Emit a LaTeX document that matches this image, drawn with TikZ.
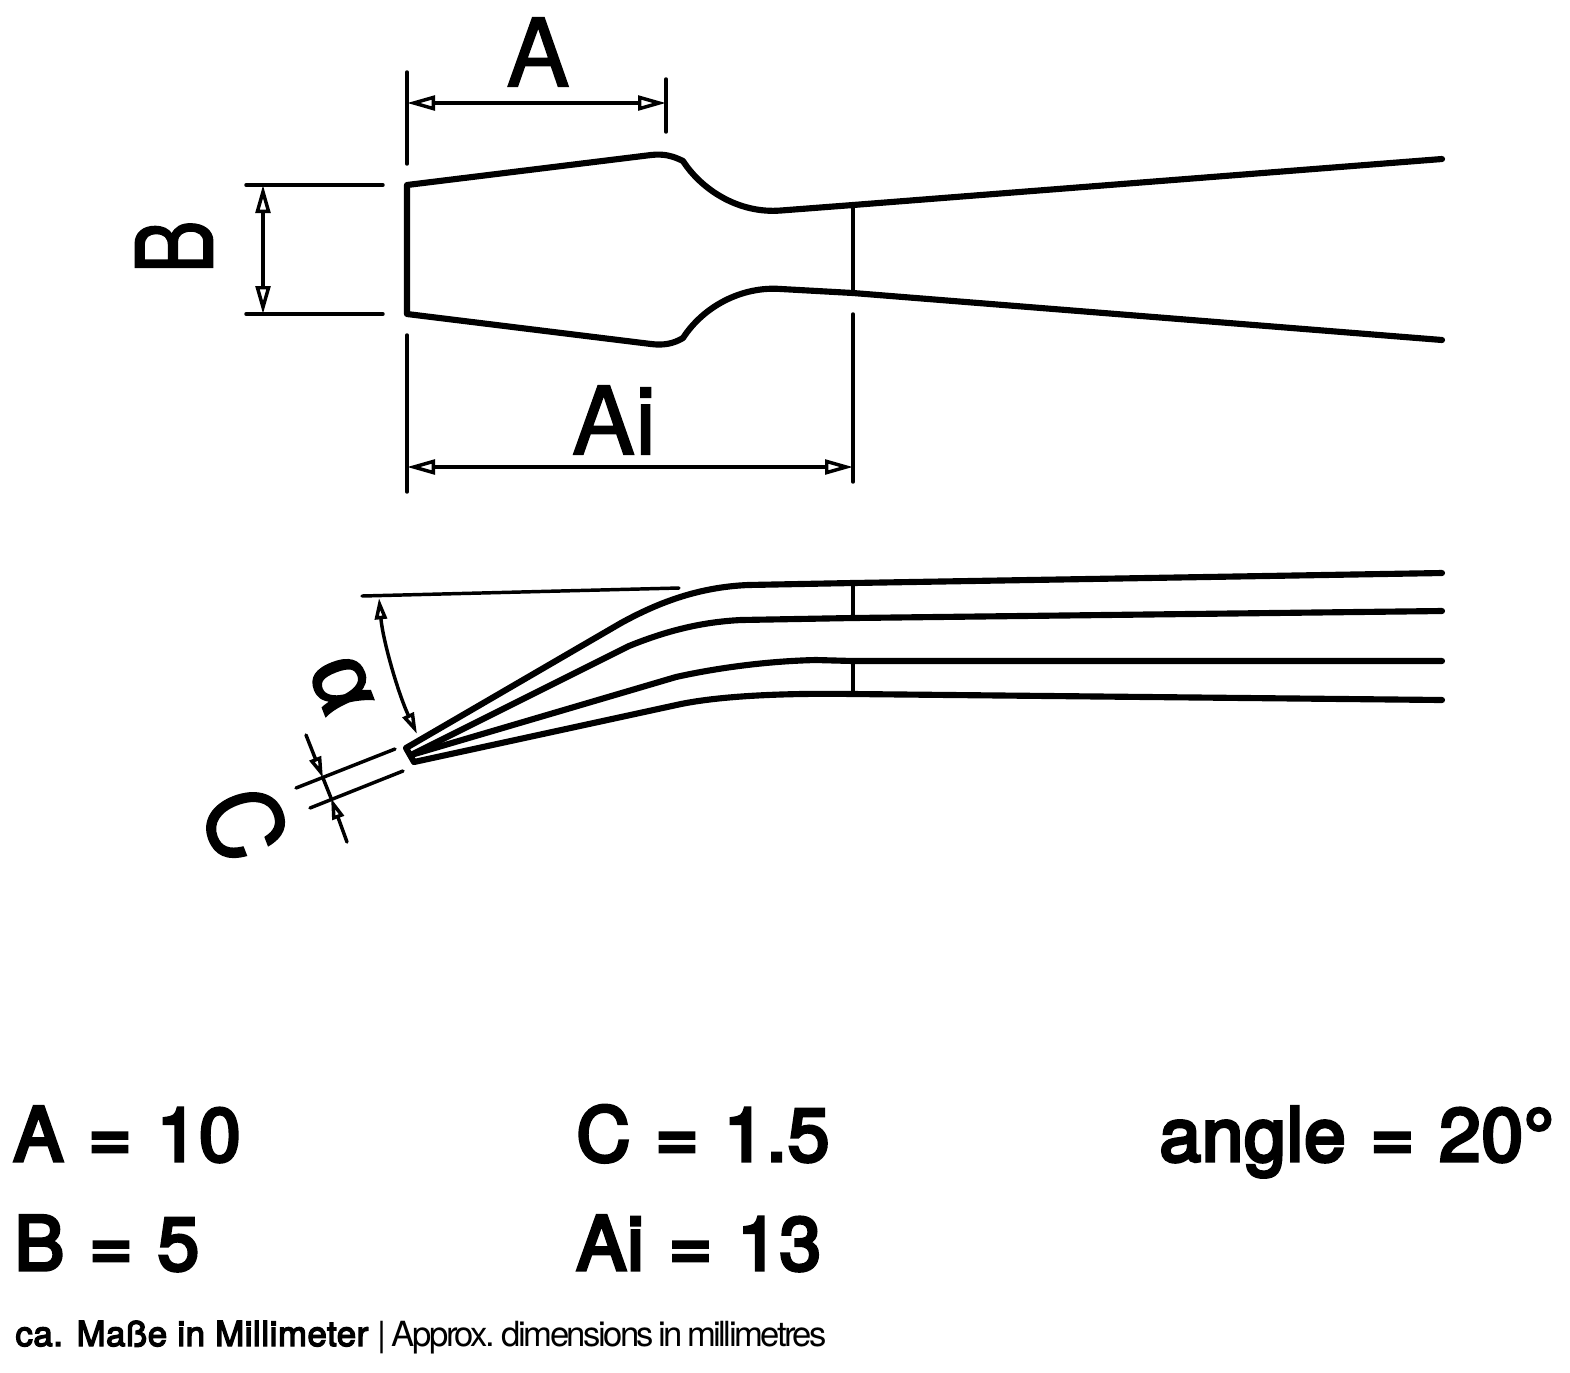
\documentclass[tikz,border=0pt]{standalone}
\usepackage{fontspec}
\setmainfont{TeX Gyre Heros}
\newfontfamily\mediumfont[FakeBold=4.5,LetterSpace=1.2,WordSpace=1.15]{TeX Gyre Heros}
\newfontfamily\notefont[FakeBold=4,LetterSpace=1.8]{TeX Gyre Heros}
\newfontfamily\letterfont[FakeBold=1.5]{TeX Gyre Heros}
\newfontfamily\alphafont[FakeBold=2.5]{Liberation Sans}
\newfontfamily\tightfont[LetterSpace=-7.3,WordSpace=0.6]{TeX Gyre Heros}
\usetikzlibrary{arrows.meta}
\tikzset{every picture/.style={line width=0.75pt}}
\tikzset{
  outline/.style={line width=4.6pt,line cap=round,line join=round},
  thinline/.style={line width=3pt,line cap=round},
  dimline/.style={line width=2.6pt,line cap=round},
  dimtip/.tip={Triangle[open,length=21pt,width=11pt,line width=2.6pt]},
  smalltip/.tip={Triangle[open,length=16pt,width=9pt,line width=2.6pt]},
  letter/.style={inner sep=0pt,font=\letterfont\fontsize{71pt}{71pt}\selectfont},
  valuetext/.style={anchor=base west,inner sep=0pt,font=\mediumfont\fontsize{56pt}{56pt}\selectfont},
}

\begin{document}
\begin{tikzpicture}[x=0.75pt,y=0.75pt,yscale=-1,xscale=1]
\useasboundingbox (-1,-1) rectangle (1569,1371);

% top view
\coordinate (tipT) at (406,184);
\coordinate (tipB) at (406,313);
\coordinate (neckT) at (852,204);
\coordinate (neckB) at (852,292);
\coordinate (endT) at (1441,158);
\coordinate (endB) at (1441,339);
\draw [outline] (endT) -- (neckT) -- (780,209.5) .. controls (737,213) and (700,188) .. (682,160) .. controls (672,155) and (663,152.5) .. (650,154) -- (tipT) -- (tipB) -- (650,343) .. controls (662,344.5) and (672,343) .. (682,337) .. controls (702,306) and (740,285) .. (780,288) -- (neckB) -- (endB) ;
\draw [thinline] (neckT) -- (neckB) ;

% dimension A
\coordinate (extA1) at (406,71);
\coordinate (extA2) at (406,163);
\coordinate (extA3) at (665,78);
\coordinate (extA4) at (665,131);
\coordinate (dimA1) at (406,102);
\coordinate (dimA2) at (665,102);
\draw [dimline] (extA1) -- (extA2) ;
\draw [dimline] (extA3) -- (extA4) ;
\draw [dimline,{dimtip}-{dimtip}] (dimA1) -- (dimA2) ;

% dimension Ai
\coordinate (extI1) at (406,334);
\coordinate (extI2) at (406,491);
\coordinate (extI3) at (852,313);
\coordinate (extI4) at (852,481);
\coordinate (dimI1) at (406,466);
\coordinate (dimI2) at (852,466);
\draw [dimline] (extI1) -- (extI2) ;
\draw [dimline] (extI3) -- (extI4) ;
\draw [dimline,{dimtip}-{dimtip}] (dimI1) -- (dimI2) ;

% dimension B
\coordinate (extB1) at (245,184);
\coordinate (extB2) at (382,184);
\coordinate (extB3) at (245,313);
\coordinate (extB4) at (382,313);
\coordinate (dimB1) at (262,184);
\coordinate (dimB2) at (262,313);
\draw [dimline] (extB1) -- (extB2) ;
\draw [dimline] (extB3) -- (extB4) ;
\draw [dimline,{dimtip}-{dimtip}] (dimB1) -- (dimB2) ;

% side view
\coordinate (sideTip1) at (405,747);
\coordinate (sideTip2) at (413,761);
\coordinate (sideMid) at (410,754);
\coordinate (barA1) at (852,582);
\coordinate (barA2) at (852,617);
\coordinate (barB1) at (852,660);
\coordinate (barB2) at (852,693);
\draw [outline] (1441,572) -- (barA1) -- (747,584) .. controls (700,586) and (660,600) .. (620,622) -- (sideTip1) -- (sideTip2) -- (680,703) .. controls (720,695) and (780,692) .. (barB2) -- (1441,699) ;
\draw [outline] (1441,610) -- (barA2) -- (740,619) .. controls (700,621) and (665,630) .. (628,645) -- (sideMid) ;
\draw [outline] (1441,660) -- (barB1) -- (815,659) .. controls (770,660) and (720,666) .. (675,676) -- (sideMid) ;
\draw [thinline] (barA1) -- (barA2) ;
\draw [thinline] (barB1) -- (barB2) ;

% dimension angle
\coordinate (refL1) at (361,595);
\coordinate (refL2) at (678,587);
\coordinate (angT) at (378,597);
\coordinate (angB) at (416,733);
\draw [dimline] (refL1) -- (refL2) ;
\draw [dimline,{smalltip}-{smalltip}] (angT) .. controls (382,640) and (397,692) .. (angB) ;

% dimension C
\coordinate (extC1) at (295,787);
\coordinate (extC2) at (394,748);
\coordinate (extC3) at (309,807);
\coordinate (extC4) at (402,770);
\coordinate (dimC1) at (305,734);
\coordinate (dimC2) at (322,777);
\coordinate (dimC3) at (330,797);
\coordinate (dimC4) at (346,841);
\draw [dimline] (extC1) -- (extC2) ;
\draw [dimline] (extC3) -- (extC4) ;
\draw [dimline,-{smalltip}] (dimC1) -- (dimC2) ;
\draw [dimline] (dimC2) -- (dimC3) ;
\draw [dimline,-{smalltip}] (dimC4) -- (dimC3) ;

% Text Node
\node [letter] (lblA) at (537,51) {A};
% Text Node
\node [letter] (lblAi) at (613,419) {Ai};
% Text Node
\node [letter,rotate=90,xscale=0.85,yscale=1.12] (lblB) at (173,246) {B};
% Text Node
\node [letter,font=\alphafont\fontsize{71pt}{71pt}\selectfont,rotate=-69] (lblAlpha) at (340,684) {α};
% Text Node
\node [letter,rotate=-69,yscale=1.08] (lblC) at (244,823) {C};

% Text Node
\node [valuetext] (valA) at (12,1160) {A = 10};
% Text Node
\node [valuetext] (valB) at (13,1269) {B = 5};
% Text Node
\node [valuetext] (valC) at (575,1160) {C = 1.5};
% Text Node
\node [valuetext] (valAi) at (575,1269) {Ai = 13};
% Text Node
\node [valuetext] (valAngle) at (1158,1160) {angle = 20°};
% Text Node
\node [anchor=base west,inner sep=0pt,font=\fontsize{26pt}{26pt}\selectfont] (note) at (14,1345) {{\notefont ca. Maße in Millimeter} |\hspace{-3.5pt} {\tightfont Approx. dimensions in millimetres}};

\end{tikzpicture}
\end{document}
